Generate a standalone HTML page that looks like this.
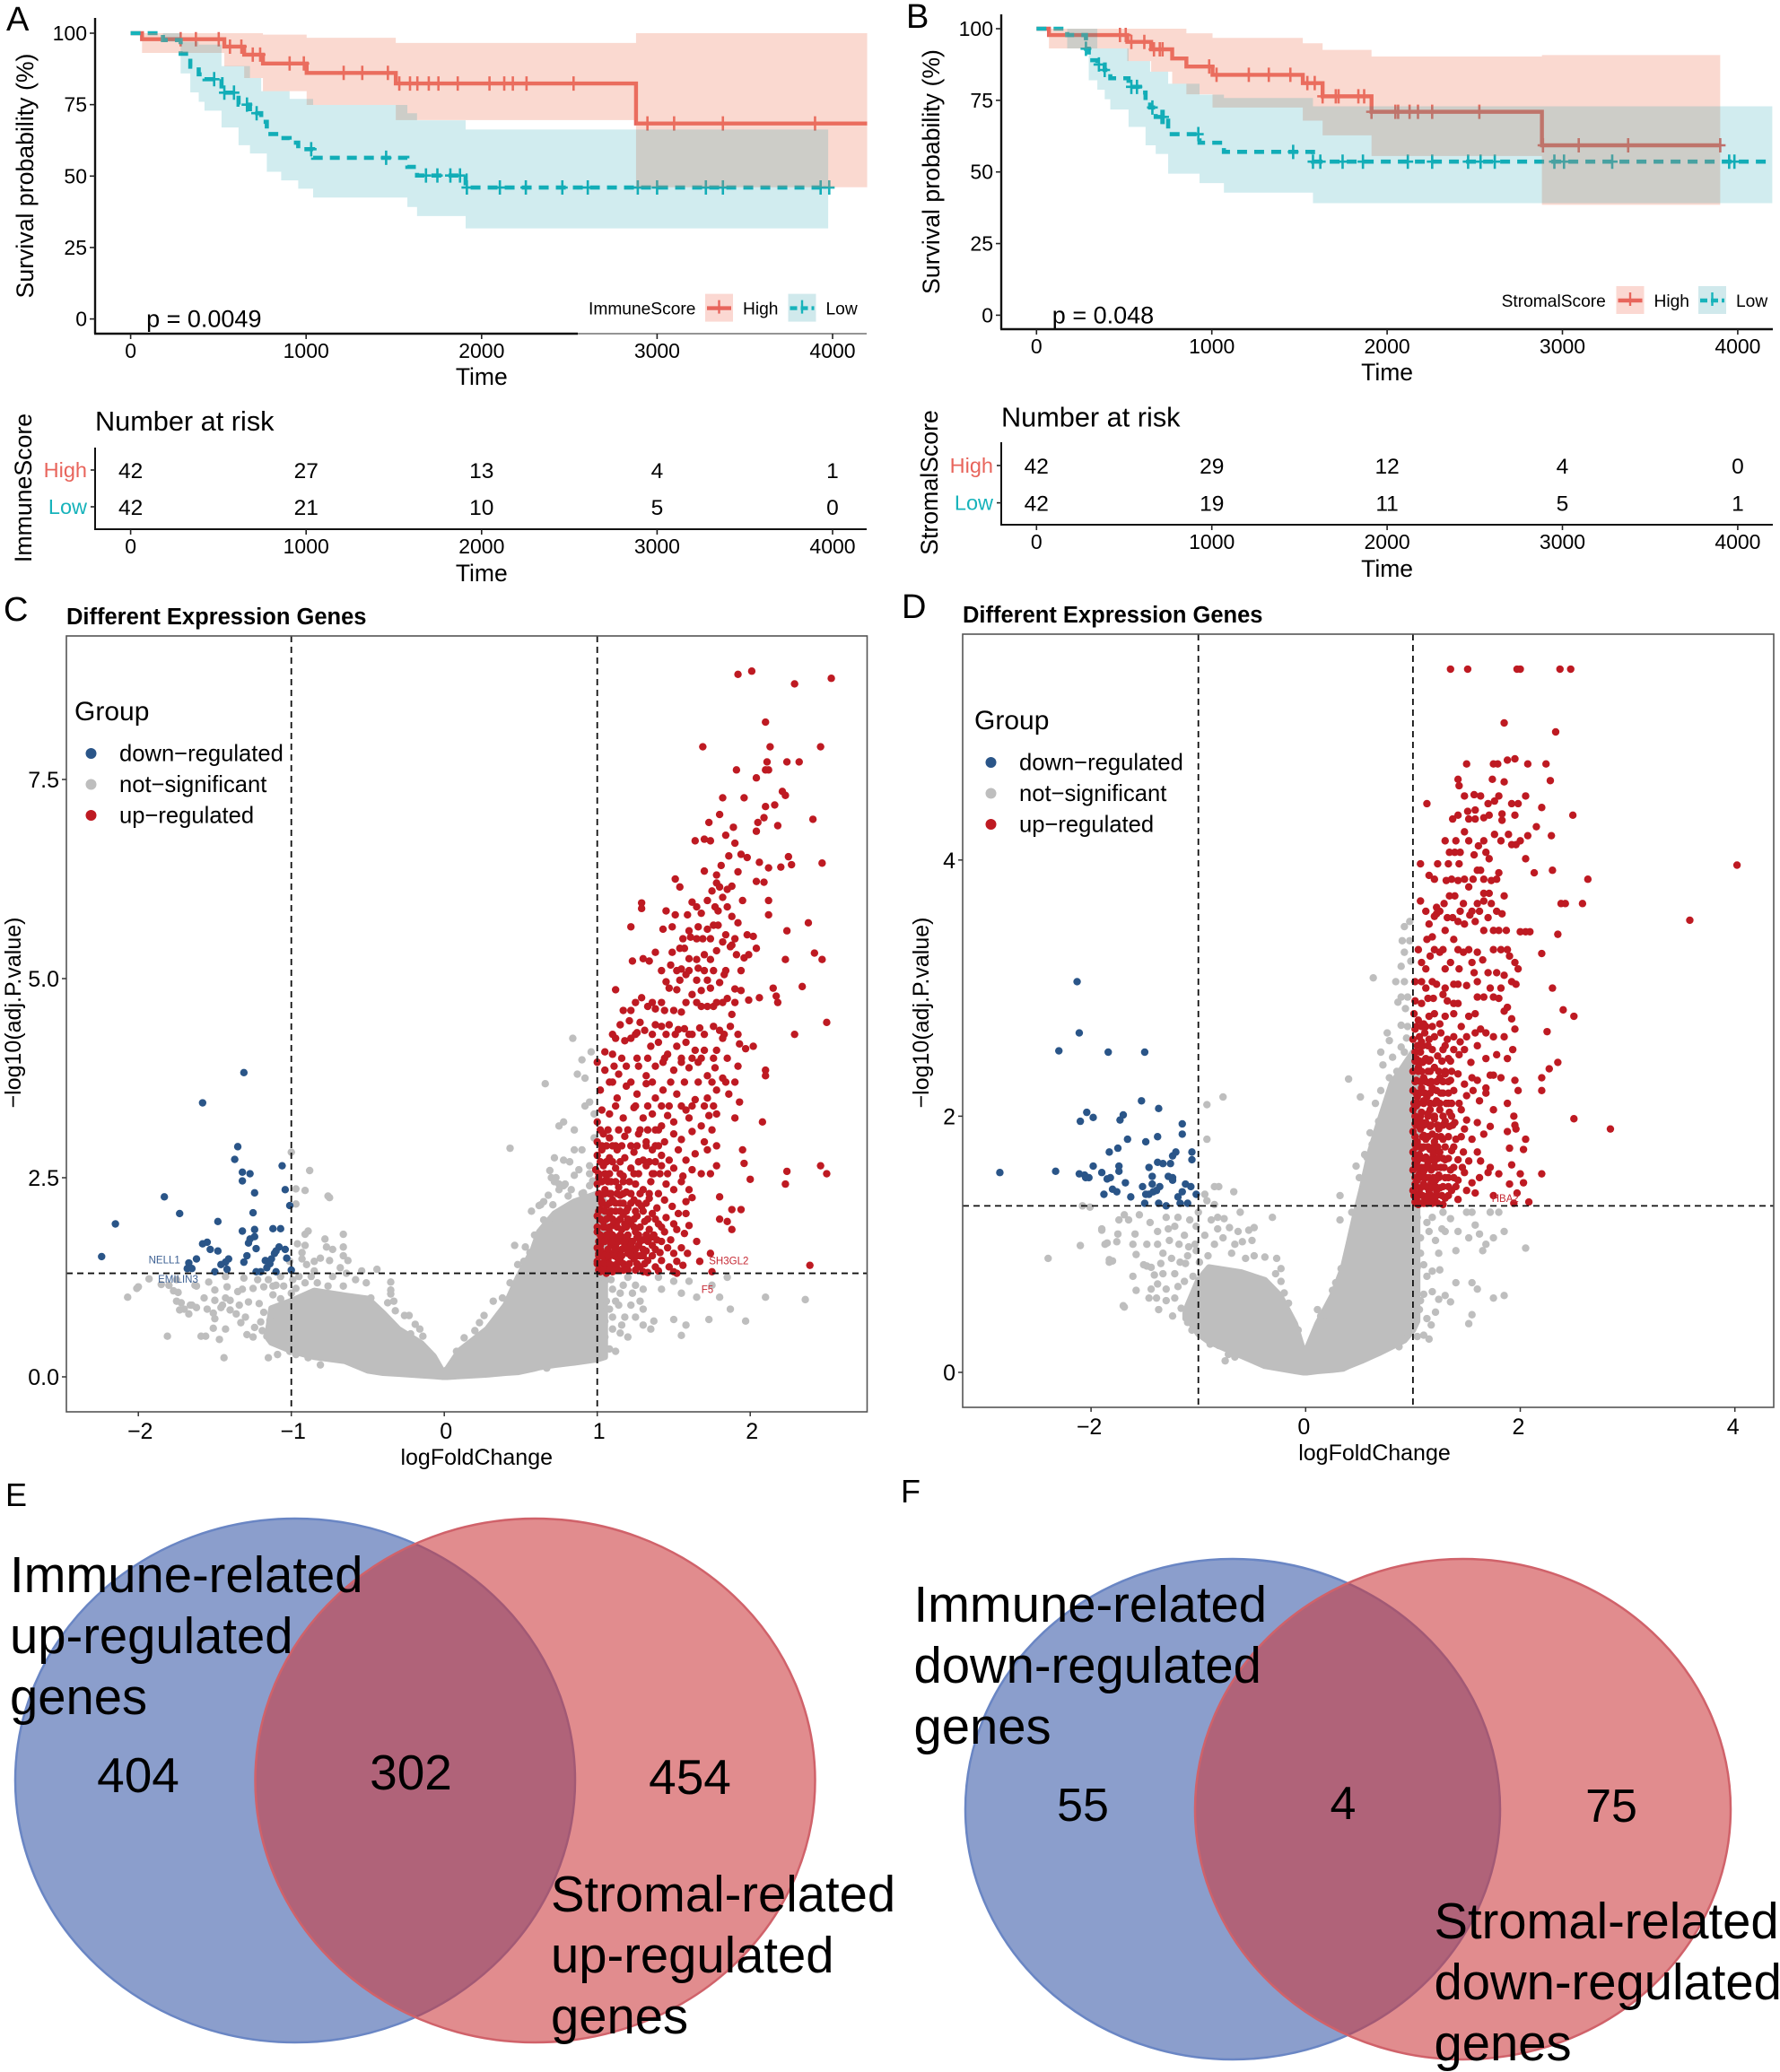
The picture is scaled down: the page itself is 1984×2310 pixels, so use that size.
<!DOCTYPE html>
<html lang="en">
<head>
<meta charset="utf-8">
<title>Survival, volcano and Venn panels</title>
<style>
html,body{margin:0;padding:0;background:#fff;}
svg{display:block;}
text{font-family:"Liberation Sans",Arial,sans-serif;fill:#000;}
</style>
</head>
<body>
<svg id="fig" xmlns="http://www.w3.org/2000/svg" width="1984" height="2310" viewBox="0 0 1984 2310">
<rect width="1984" height="2310" fill="#fff"/>
<text x="7" y="34" font-size="38">A</text>
<text x="1010" y="31" font-size="38">B</text>
<text x="4" y="692" font-size="38">C</text>
<text x="1005" y="689" font-size="38">D</text>
<text x="6" y="1679" font-size="36">E</text>
<text x="1004" y="1675" font-size="36">F</text>

<g id="km-a"></g>
<g id="km-b"></g>
<g id="vol-c"></g>
<g id="vol-d"></g>

<g>
<ellipse cx="329" cy="1985" rx="312" ry="292" fill="rgba(62,93,170,.6)" stroke="#6a86c4" stroke-width="2.5"/>
<ellipse cx="596.5" cy="1985" rx="312" ry="292" fill="rgba(203,57,60,.58)" stroke="#d0626a" stroke-width="2.5"/>
<text font-size="56.2" x="11" y="1775">Immune-related</text>
<text font-size="56.2" x="11" y="1843">up-regulated</text>
<text font-size="56.2" x="11" y="1911">genes</text>
<text font-size="55" x="154" y="1998" text-anchor="middle">404</text>
<text font-size="55" x="458" y="1995" text-anchor="middle">302</text>
<text font-size="55" x="769" y="2000" text-anchor="middle">454</text>
<text font-size="56.2" x="614" y="2131">Stromal-related</text>
<text font-size="56.2" x="614" y="2199">up-regulated</text>
<text font-size="56.2" x="614" y="2267">genes</text>
</g>
<g>
<ellipse cx="1374" cy="2017" rx="298" ry="279" fill="rgba(62,93,170,.6)" stroke="#6a86c4" stroke-width="2.5"/>
<ellipse cx="1630.5" cy="2017" rx="298.5" ry="279" fill="rgba(203,57,60,.58)" stroke="#d0626a" stroke-width="2.5"/>
<text font-size="56.2" x="1018.5" y="1808">Immune-related</text>
<text font-size="56.2" x="1018.5" y="1876">down-regulated</text>
<text font-size="56.2" x="1018.5" y="1944">genes</text>
<text font-size="52" x="1207" y="2030" text-anchor="middle">55</text>
<text font-size="52" x="1497" y="2028" text-anchor="middle">4</text>
<text font-size="52" x="1796" y="2031" text-anchor="middle">75</text>
<text font-size="56.2" x="1598.5" y="2161">Stromal-related</text>
<text font-size="56.2" x="1598.5" y="2229">down-regulated</text>
<text font-size="56.2" x="1598.5" y="2297">genes</text>
</g>
</svg>
<script>
/* ---------- survival data (time, survival %) ---------- */
const kmTimeTicks = [0,1000,2000,3000,4000];
const kmSurvTicks = [0,25,50,75,100];

const aHighTime  = [0,65,534,647,754,1003,1511,2880];
const aHighSurv  = [100,97.9,95.3,92.5,89.4,86.1,82.4,68.4];
const aHighUpper = [100,100,100,100,99.5,98.4,96.6,100];
const aHighLower = [100,93.1,88.4,84.3,79.7,74.9,69.6,46.1];
const aHighCensor = [285,372,502,566,631,696,738,906,987,1214,1320,1466,1531,1592,1634,1699,1754,1864,2045,2129,2178,2256,2524,2945,3097,3375,3900];
const aLowTime  = [0,184,285,340,388,421,518,615,680,744,776,858,906,955,1040,1577,1632,1909];
const aLowSurv  = [100,97.6,92.8,88.3,85.6,83.9,79.2,75,72,69,64.7,63.3,61.7,59.4,56.4,53.2,50.2,46];
const aLowUpper = [100,100,97,97,96,96,88.5,88.5,84.3,79.7,79.7,79.7,77,77,74.9,72,69.5,66.3];
const aLowLower = [100,97,85.9,79.3,76,72.9,67,60.8,57.9,57.9,51.5,48.5,48.5,45.6,42.5,39.2,36,31.7];
const aLowCensor = [476,534,589,663,718,1029,1456,1683,1748,1822,1877,1916,2104,2252,2460,2605,2890,3000,3278,3375,3932,3981];
const aRiskHigh = [42,27,13,4,1];
const aRiskLow  = [42,21,10,5,0];

const bHighTime  = [0,71,518,654,774,855,1004,1519,1632,1911,2883];
const bHighSurv  = [100,97.8,95.4,92.8,89.6,86.8,83.9,81,76.4,71,59.3];
const bHighUpper = [100,100,100,100,100,98.4,96.8,94.9,92.6,90.3,90.8];
const bHighLower = [100,93.1,88.7,85,80.8,77.1,72.5,67.9,62.8,55.6,38.5];
const bHighCensor = [476,509,541,615,670,703,719,985,1027,1211,1325,1448,1545,1587,1632,1707,1723,1836,1869,1911,2047,2063,2128,2176,2257,2526,2889,3093,3375,3900];
const bLowTime  = [0,175,282,298,347,389,421,525,590,622,648,680,751,930,1069,1577];
const bLowSurv  = [100,97.8,93,89,87.5,85.6,82.7,79.7,77.7,75,72.5,69.2,63.2,60.2,57,53.6];
const bLowUpper = [100,100,100,100,93.1,93.1,93.1,88.7,88.7,88.7,85,85,80.8,77,75.8,72.9];
const bLowLower = [100,93.1,93.1,82,78.7,75.4,71.8,65.7,65.7,59.3,59.3,56.3,49.4,46.1,42.8,39.1];
const bLowCensor = [282,356,389,541,573,661,713,725,923,1464,1577,1619,1746,1862,2118,2257,2462,2533,2614,2954,3009,3284,3951,3981];
const bRiskHigh = [42,29,12,4,0];
const bRiskLow  = [42,19,11,5,1];

/* ---------- volcano C data: [logFC, -log10 p] ---------- */
const cXTicks = [-2,-1,0,1,2];
const cYTicks = [0,2.5,5,7.5];
const cDown = [[-1.31,3.82],[-1.58,3.44],[-1.35,2.89],[-1.37,2.73],[-1.32,2.57],[-1.27,2.55],[-1.32,2.46],[-1.06,2.65],[-1.04,2.35],[-1.24,2.31],[-1.83,2.26],[-1.73,2.05],[-1.25,2.06],[-1.01,2.15],[-1.48,1.95],[-2.15,1.92],[-1.32,1.83],[-1.24,1.85],[-1.12,1.86],[-1.07,1.86],[-1.24,1.76],[-1.27,1.73],[-1.55,1.69],[-1.58,1.67],[-1.28,1.68],[-1.23,1.61],[-1.08,1.63],[-1.04,1.6],[-1.53,1.6],[-1.48,1.58],[-1.1,1.58],[-2.24,1.51],[-1.62,1.48],[-1.41,1.48],[-1.29,1.52],[-1.11,1.55],[-1.03,1.49],[-1.67,1.43],[-1.43,1.44],[-1.31,1.44],[-1.17,1.46],[-1.13,1.48],[-1.46,1.41],[-1.14,1.42],[-1.68,1.36],[-1.65,1.36],[-1.42,1.35],[-1.16,1.37],[-1.5,1.32],[-1.23,1.32],[-1.2,1.32],[-1.1,1.32],[-1.0,1.34]];
const cUp = [[1.92,8.82],[2.01,8.86],[2.29,8.7],[2.53,8.77],[2.1,8.22],[1.69,7.91],[2.13,7.91],[2.46,7.91],[2.11,7.72],[2.24,7.72],[2.32,7.72],[1.91,7.62],[2.1,7.62],[2.12,7.62],[2.04,7.52],[2.21,7.35],[2.23,7.3],[1.82,7.27],[1.96,7.27],[2.1,7.16],[2.16,7.18],[1.8,7.06],[2.09,7.02],[2.41,7.0],[2.05,6.96],[1.73,6.96],[2.18,6.92],[1.89,6.9],[2.04,6.85],[1.84,6.8],[1.7,6.75],[1.64,6.73],[1.74,6.73],[1.9,6.7],[1.94,6.56],[1.86,6.54],[1.98,6.52],[2.25,6.53],[2.06,6.46],[2.27,6.43],[2.47,6.45],[1.81,6.42],[2.12,6.39],[2.2,6.4],[1.7,6.35],[1.92,6.34],[1.78,6.3],[1.51,6.25],[2.04,6.22],[2.09,6.21],[1.54,6.15],[1.78,6.2],[1.88,6.16],[1.29,5.95],[1.29,5.88],[1.45,5.85],[1.51,5.8],[1.62,5.96],[1.59,5.8],[1.68,5.82],[1.72,5.98],[1.79,5.85],[1.88,5.78],[1.95,5.98],[2.12,5.98],[2.12,5.8],[1.82,6.02],[1.75,6.1],[1.8,6.15],[1.85,6.12],[1.22,5.65],[1.43,5.62],[1.49,5.65],[1.6,5.6],[1.66,5.65],[1.72,5.62],[1.76,5.67],[1.79,5.67],[1.84,5.55],[1.92,5.7],[1.98,5.55],[2.02,5.53],[2.24,5.6],[2.38,5.7],[1.61,5.52],[1.69,5.5],[1.82,5.46],[1.88,5.42],[1.23,5.22],[1.3,5.25],[1.34,5.22],[1.38,5.33],[1.49,5.33],[1.54,5.38],[1.57,5.38],[1.6,5.25],[1.65,5.24],[1.7,5.3],[1.74,5.24],[1.78,5.35],[1.87,5.4],[1.91,5.3],[1.96,5.26],[1.99,5.3],[2.04,5.38],[2.23,5.24],[2.42,5.32],[2.47,5.24],[1.48,5.17],[1.55,5.12],[1.66,5.13],[1.45,4.96],[1.47,4.88],[1.54,4.98],[1.58,5.05],[1.65,4.98],[1.72,4.98],[1.8,4.95],[1.83,5.05],[1.9,4.87],[1.94,4.85],[1.99,4.73],[2.06,4.76],[2.15,4.88],[2.17,4.78],[2.18,4.7],[2.34,4.9],[1.12,4.86],[1.52,4.86],[1.62,4.8],[1.68,4.85],[1.74,4.88],[1.85,4.75],[1.29,4.76],[1.17,4.6],[1.22,4.6],[1.33,4.65],[1.38,4.62],[1.44,4.6],[1.5,4.6],[1.55,4.58],[1.68,4.65],[1.72,4.65],[1.76,4.65],[1.82,4.7],[1.88,4.55],[1.28,4.45],[1.15,4.42],[1.21,4.47],[1.31,4.35],[1.38,4.42],[1.42,4.4],[1.47,4.42],[1.53,4.36],[1.57,4.37],[1.62,4.3],[1.67,4.38],[1.76,4.4],[1.8,4.35],[1.87,4.4],[1.92,4.3],[2.29,4.3],[2.5,4.45],[1.05,4.08],[1.12,4.25],[1.18,4.22],[1.22,4.25],[1.26,4.32],[1.35,4.15],[1.4,4.2],[1.46,4.05],[1.52,4.15],[1.58,4.2],[1.64,4.1],[1.7,4.1],[1.78,4.1],[1.82,4.25],[1.93,4.18],[1.97,4.12],[2.02,4.15],[1.1,4.05],[1.0,3.95],[1.05,3.85],[1.11,3.9],[1.14,3.8],[1.19,3.9],[1.27,3.9],[1.32,3.78],[1.38,3.9],[1.43,3.95],[1.5,3.85],[1.55,3.95],[1.6,3.88],[1.66,3.95],[1.72,3.78],[1.77,3.88],[1.82,3.75],[1.9,3.7],[1.92,3.9],[2.1,3.85],[2.1,3.78],[1.02,3.6],[1.08,3.7],[1.13,3.5],[1.19,3.65],[1.26,3.55],[1.32,3.68],[1.38,3.5],[1.43,3.6],[1.47,3.4],[1.52,3.55],[1.58,3.35],[1.64,3.48],[1.72,3.5],[1.78,3.6],[1.86,3.55],[1.93,3.45],[1.0,3.2],[1.03,3.35],[1.08,3.3],[1.12,3.4],[1.17,3.25],[1.24,3.38],[1.3,3.25],[1.36,3.3],[1.42,3.15],[1.46,3.28],[1.5,3.2],[1.6,3.25],[1.73,3.28],[1.78,3.3],[1.68,3.15],[1.75,3.1],[1.9,3.25],[2.08,3.2],[1.0,2.95],[1.04,3.05],[1.08,3.0],[1.12,2.9],[1.18,3.02],[1.22,2.9],[1.27,3.05],[1.32,2.95],[1.38,3.1],[1.44,2.95],[1.5,3.05],[1.55,2.98],[1.62,3.08],[1.7,2.95],[1.78,2.9],[1.0,2.78],[1.03,2.85],[1.08,2.75],[1.13,2.85],[1.18,2.75],[1.24,2.82],[1.3,2.72],[1.36,2.85],[1.42,2.78],[1.47,2.72],[1.53,2.85],[1.58,2.72],[1.64,2.8],[1.72,2.85],[1.95,2.85],[0.99,2.6],[1.04,2.65],[1.08,2.55],[1.12,2.62],[1.17,2.52],[1.22,2.62],[1.27,2.55],[1.32,2.65],[1.37,2.55],[1.42,2.65],[1.46,2.55],[1.5,2.62],[1.56,2.52],[1.62,2.6],[1.68,2.55],[1.74,2.55],[1.78,2.65],[1.96,2.68],[2.24,2.58],[2.46,2.65],[2.5,2.55],[1.0,2.42],[1.05,2.35],[1.09,2.45],[1.14,2.38],[1.19,2.32],[1.25,2.42],[1.3,2.35],[1.35,2.45],[1.4,2.3],[1.45,2.42],[1.5,2.35],[1.55,2.45],[1.6,2.35],[2.0,2.48],[2.23,2.42],[1.02,2.25],[1.06,2.15],[1.1,2.22],[1.15,2.18],[1.2,2.12],[1.24,2.22],[1.29,2.14],[1.34,2.24],[1.39,2.12],[1.44,2.22],[1.49,2.14],[1.53,2.05],[1.58,2.2],[1.62,2.25],[1.8,2.26],[1.88,2.1],[1.94,2.1],[1.8,1.98],[1.0,2.02],[1.04,1.95],[1.08,2.05],[1.13,1.95],[1.17,2.04],[1.22,1.92],[1.26,2.02],[1.31,1.95],[1.36,2.05],[1.4,1.92],[1.45,2.0],[1.5,1.92],[1.58,2.05],[1.6,1.9],[1.85,1.95],[1.88,1.85],[1.0,1.82],[1.03,1.72],[1.08,1.82],[1.12,1.75],[1.16,1.85],[1.2,1.72],[1.25,1.82],[1.3,1.72],[1.34,1.85],[1.39,1.72],[1.44,1.82],[1.48,1.72],[1.52,1.85],[1.57,1.8],[1.65,1.7],[1.0,1.62],[1.05,1.55],[1.09,1.65],[1.14,1.58],[1.18,1.66],[1.23,1.56],[1.27,1.65],[1.32,1.58],[1.36,1.65],[1.41,1.56],[1.46,1.62],[1.5,1.55],[1.55,1.62],[1.59,1.55],[1.74,1.55],[1.0,1.45],[1.03,1.38],[1.07,1.48],[1.1,1.4],[1.15,1.46],[1.19,1.38],[1.24,1.48],[1.28,1.38],[1.33,1.46],[1.38,1.38],[1.42,1.46],[1.47,1.38],[1.52,1.45],[1.56,1.4],[1.67,1.45],[2.39,1.4],[1.02,1.32],[1.06,1.3],[1.1,1.32],[1.17,1.34],[1.3,1.32],[1.33,1.31],[1.4,1.33],[1.5,1.32],[1.52,1.3],[1.75,1.32],[1.01,2.5],[1.06,2.48],[1.03,2.2],[1.08,2.3],[1.12,2.08],[1.02,2.1],[1.15,2.28],[1.05,1.88],[1.1,1.9],[1.18,1.92],[1.02,1.65],[1.07,1.72],[1.12,1.65],[1.17,1.75],[1.22,1.65],[1.05,1.48],[1.09,1.55],[1.13,1.5],[1.2,1.55],[1.28,1.52],[1.04,1.4],[1.01,1.55],[1.06,1.36],[1.12,1.36],[1.26,1.75],[1.35,1.75]];
const cUpDense = [[1.01,1.34],[1.04,1.34],[1.08,1.34],[1.12,1.34],[1.14,1.34],[1.2,1.34],[1.25,1.34],[1.0,1.42],[1.02,1.42],[1.05,1.42],[1.08,1.42],[1.13,1.42],[1.17,1.42],[1.21,1.42],[1.26,1.42],[1.31,1.42],[1.01,1.52],[1.03,1.52],[1.07,1.52],[1.11,1.52],[1.16,1.52],[1.22,1.52],[1.26,1.52],[1.3,1.52],[1.36,1.52],[1.02,1.6],[1.07,1.6],[1.12,1.6],[1.16,1.6],[1.2,1.6],[1.25,1.6],[1.3,1.6],[1.38,1.6],[1.01,1.7],[1.05,1.7],[1.1,1.7],[1.14,1.7],[1.18,1.7],[1.23,1.7],[1.28,1.7],[1.33,1.7],[1.42,1.7],[1.02,1.78],[1.06,1.78],[1.1,1.78],[1.15,1.78],[1.2,1.78],[1.27,1.78],[1.32,1.78],[1.37,1.78],[1.0,1.88],[1.04,1.88],[1.08,1.88],[1.13,1.88],[1.19,1.88],[1.24,1.88],[1.28,1.88],[1.42,1.88],[1.02,1.98],[1.06,1.98],[1.1,1.98],[1.15,1.98],[1.2,1.98],[1.24,1.98],[1.33,1.98],[1.38,1.98],[1.01,2.08],[1.05,2.08],[1.09,2.08],[1.15,2.08],[1.19,2.08],[1.25,2.08],[1.3,2.08],[1.03,2.18],[1.08,2.18],[1.12,2.18],[1.17,2.18],[1.22,2.18],[1.27,2.18],[1.32,2.18],[1.01,2.3],[1.05,2.3],[1.09,2.3],[1.13,2.3],[1.17,2.3],[1.22,2.3],[1.28,2.3],[1.34,2.3],[1.03,2.45],[1.07,2.45],[1.12,2.45],[1.17,2.45],[1.21,2.45],[1.01,2.55],[1.05,2.55],[1.15,2.55],[1.24,2.55],[1.36,2.55],[1.41,2.55],[1.02,2.7],[1.06,2.7],[1.1,2.7],[1.15,2.7],[1.27,2.7],[1.34,2.7],[1.38,2.7],[1.03,2.9],[1.06,2.9],[1.1,2.9],[1.16,2.9],[1.26,2.9],[1.32,2.9],[1.38,2.9],[1.4,2.9],[1.02,3.1],[1.07,3.1],[1.14,3.1],[1.2,3.1],[1.28,3.1],[1.33,3.1],[1.4,3.1],[1.25,3.4],[1.33,3.4],[1.42,3.4],[1.55,3.4],[1.62,3.4],[1.7,3.4],[1.76,3.4],[1.1,3.7],[1.22,3.7],[1.36,3.7],[1.48,3.7],[1.57,3.7],[1.66,3.7],[1.75,3.7],[1.84,3.7],[1.16,4.0],[1.26,4.0],[1.33,4.0],[1.44,4.0],[1.55,4.0],[1.62,4.0],[1.68,4.0],[1.76,4.0],[1.85,4.0],[1.1,4.3],[1.25,4.3],[1.36,4.3],[1.45,4.3],[1.51,4.3],[1.6,4.3],[1.7,4.3],[1.83,4.3],[1.25,4.7],[1.36,4.7],[1.42,4.7],[1.58,4.7],[1.65,4.7],[1.78,4.7],[1.9,4.7],[1.42,5.1],[1.52,5.1],[1.6,5.1],[1.7,5.1],[1.76,5.1],[1.84,5.1],[1.94,5.1],[1.56,5.5],[1.65,5.5],[1.74,5.5],[1.9,5.5],[1.65,5.9],[1.77,5.9],[1.85,5.9]];
const cMassFc  = [-1.15,-1.13,-0.99,-0.85,-0.65,-0.5,-0.4,-0.3,-0.15,-0.07,-0.01,0.02,0.1,0.28,0.4,0.48,0.58,0.62,0.72,0.85,1.0,1.05];
const cMassUp  = [0.6,0.86,0.96,1.08,1.02,0.98,0.8,0.6,0.42,0.26,0.06,0.1,0.33,0.6,0.9,1.24,1.6,1.82,2.05,2.2,2.3,2.2];
const cMassLow = [0.48,0.43,0.32,0.25,0.2,0.08,0.05,0.04,0.02,0.01,0,0,0.01,0.03,0.05,0.06,0.1,0.12,0.15,0.18,0.22,0.25];
const cGray = [[-1.0,2.82],[-0.88,2.59],[-0.97,2.36],[-0.91,2.34],[-0.76,2.27],[-0.75,2.25],[-0.97,2.17],[-0.89,1.83],[-0.91,1.79],[-0.96,1.67],[-0.91,1.65],[-0.93,1.56],[-0.93,1.48],[-0.78,1.73],[-0.77,1.63],[-0.73,1.6],[-0.75,1.46],[-0.66,1.79],[-0.66,1.63],[-0.66,1.52],[-0.63,1.46],[-0.81,1.49],[-0.85,1.45],[-0.9,1.41],[-1.01,1.45],[-0.85,1.33],[-0.68,1.37],[-0.54,1.33],[-0.44,1.35],[-0.64,1.3],[-0.95,1.26],[-0.58,1.22],[-0.51,1.18],[-0.35,1.19],[-0.35,1.09],[-0.35,1.04],[-0.37,0.93],[-0.33,0.95],[-0.48,0.99],[-0.32,0.83],[-0.26,0.77],[-0.23,0.77],[-0.19,0.66],[-0.16,0.6],[-0.14,0.51],[-0.22,0.54],[-2.01,1.11],[-1.93,1.23],[-1.85,1.16],[-1.77,1.08],[-1.74,1.06],[-1.72,0.93],[-1.73,0.84],[-1.66,0.9],[-1.67,0.79],[-1.62,0.87],[-1.62,1.14],[-1.57,0.99],[-1.54,1.19],[-1.5,1.09],[-1.5,0.96],[-1.43,1.26],[-1.42,1.13],[-1.43,0.99],[-1.4,0.96],[-1.35,1.07],[-1.31,1.24],[-1.34,0.9],[-1.28,0.94],[-1.51,0.8],[-1.5,0.73],[-1.46,0.87],[-1.4,0.84],[-1.36,0.79],[-1.33,0.68],[-1.51,0.61],[-1.43,0.6],[-1.81,0.51],[-1.59,0.51],[-1.56,0.51],[-1.47,0.47],[-1.44,0.24],[-1.15,0.24],[-1.09,0.28],[-1.29,0.53],[-1.24,0.62],[-1.19,0.58],[-1.25,1.11],[-1.18,1.13],[-1.12,1.14],[-1.05,1.14],[-1.22,1.22],[-1.15,1.22],[-1.07,1.26],[-1.21,0.92],[-1.18,0.81],[-1.12,1.03],[-1.07,0.98],[-1.16,0.51],[-1.14,0.71],[-1.2,0.69],[-1.05,0.81],[-0.97,1.11],[-0.91,1.18],[-0.83,1.18],[-0.76,1.14],[-0.99,1.22],[-0.87,1.26],[-0.73,1.26],[-0.66,1.14],[-1.01,0.32],[-0.89,0.24],[-0.81,0.15],[-0.97,0.28],[-2.07,1.0],[-2.0,1.13],[-1.75,1.22],[-1.8,1.15],[-1.65,0.9],[-1.7,0.85],[-1.75,0.95],[-1.63,1.15],[-1.55,0.85],[-1.45,0.9],[-1.3,0.75],[-1.32,1.1],[-1.25,0.5],[-1.1,1.15],[-1.0,1.05],[0.84,4.25],[0.96,4.08],[0.9,3.98],[0.87,3.8],[0.92,3.75],[0.66,3.68],[0.95,3.45],[0.92,3.4],[0.98,3.3],[0.43,2.87],[0.78,3.2],[0.75,3.15],[0.85,3.1],[0.98,3.0],[0.85,2.85],[0.9,2.85],[0.72,2.75],[0.78,2.72],[0.82,2.7],[0.88,2.6],[0.95,2.55],[0.7,2.5],[0.72,2.45],[0.75,2.42],[0.78,2.4],[0.83,2.35],[0.9,2.3],[0.95,2.4],[0.65,2.2],[0.62,2.15],[0.68,2.28],[0.46,1.65],[0.53,1.63],[0.57,2.08],[0.63,2.16],[0.69,2.59],[0.48,1.41],[0.43,1.18],[0.32,0.95],[0.38,0.99],[0.26,0.77],[0.23,0.68],[0.2,0.58],[0.13,0.49],[0.08,0.32],[0.56,1.56],[0.52,1.45],[0.59,1.78],[0.65,1.97],[0.73,2.5],[0.79,2.42],[0.75,2.35],[0.85,2.53],[0.91,2.31],[0.97,2.46],[0.81,2.27],[0.87,2.2],[0.71,2.16],[0.95,2.65],[0.89,0.21],[0.96,0.23],[0.67,0.11],[1.05,1.2],[1.1,1.1],[1.15,1.05],[1.2,1.25],[1.25,1.15],[1.02,0.95],[1.08,0.85],[1.12,0.95],[1.18,0.75],[1.22,0.9],[1.28,0.95],[1.3,0.65],[1.35,0.6],[1.05,0.7],[1.1,0.6],[1.15,0.55],[1.2,0.5],[1.05,0.5],[1.08,0.35],[1.12,0.32],[1.02,0.35],[1.4,1.25],[1.42,1.1],[1.5,1.2],[1.55,1.05],[1.6,1.2],[1.65,1.0],[1.75,1.15],[1.85,1.25],[1.8,1.0],[1.87,0.85],[1.97,0.7],[1.73,0.72],[1.58,0.65],[1.5,0.72],[1.55,0.52],[1.37,0.7],[1.3,0.85],[1.3,1.1],[2.1,1.0],[2.36,0.97],[1.03,1.1],[1.06,0.95],[1.14,0.9],[1.17,1.15],[1.23,1.05],[1.1,0.75],[1.16,0.65],[1.25,0.75],[1.04,1.25],[1.09,1.22],[1.03,0.62],[1.03,0.82]];

/* ---------- volcano D data: [logFC, -log10 p] ---------- */
const dXTicks = [-2,0,2,4];
const dYTicks = [0,2,4];
const dDown = [[-2.13,3.05],[-2.11,2.65],[-2.3,2.51],[-1.84,2.5],[-1.5,2.5],[-1.53,2.12],[-1.37,2.06],[-2.04,2.03],[-1.98,1.99],[-2.1,1.96],[-1.7,2.01],[-1.73,1.97],[-1.15,1.94],[-1.15,1.86],[-1.38,1.84],[-1.66,1.82],[-1.49,1.8],[-1.75,1.75],[-1.83,1.72],[-1.21,1.72],[-1.06,1.72],[-1.24,1.69],[-1.06,1.66],[-1.33,1.63],[-1.38,1.64],[-1.26,1.63],[-1.46,1.6],[-1.74,1.61],[-1.74,1.57],[-1.98,1.61],[-2.33,1.57],[-2.85,1.56],[-2.11,1.55],[-1.9,1.56],[-2.06,1.54],[-2.02,1.52],[-2.05,1.52],[-1.85,1.51],[-1.82,1.52],[-1.28,1.53],[-1.24,1.52],[-1.43,1.53],[-1.68,1.48],[-1.52,1.45],[-1.43,1.47],[-1.36,1.45],[-1.24,1.5],[-1.12,1.47],[-1.15,1.41],[-1.02,1.39],[-1.8,1.43],[-1.76,1.41],[-1.88,1.39],[-1.63,1.37],[-1.49,1.39],[-1.46,1.39],[-1.42,1.41],[-1.39,1.42],[-1.5,1.32],[-1.37,1.32],[-1.3,1.3],[-1.17,1.32],[-1.1,1.32],[-1.19,1.37],[-1.07,1.45]];
const dUp = [[1.35,5.49],[1.51,5.49],[1.97,5.49],[2.0,5.49],[2.37,5.49],[2.47,5.49],[1.85,5.07],[2.33,5.0],[1.5,4.75],[1.75,4.75],[1.79,4.75],[1.88,4.78],[1.95,4.79],[2.07,4.75],[2.24,4.75],[1.42,4.63],[1.74,4.63],[1.43,4.58],[1.85,4.61],[2.28,4.62],[1.57,4.51],[1.13,4.44],[1.7,4.44],[1.76,4.46],[1.92,4.44],[1.98,4.44],[2.2,4.41],[1.58,4.39],[1.51,4.38],[1.66,4.33],[1.71,4.35],[1.83,4.36],[1.95,4.35],[2.49,4.35],[1.37,4.32],[1.42,4.35],[1.52,4.32],[1.58,4.32],[1.83,4.31],[2.15,4.26],[1.48,4.22],[1.76,4.2],[1.89,4.2],[2.07,4.19],[2.29,4.19],[1.61,4.11],[1.92,4.12],[1.96,4.12],[1.68,4.06],[1.57,4.04],[1.34,4.06],[1.39,4.06],[1.44,4.06],[2.05,4.01],[1.07,3.97],[1.23,3.97],[1.33,3.97],[1.43,3.97],[1.71,4.01],[1.6,3.92],[1.63,3.92],[1.8,3.9],[2.13,3.9],[2.3,3.92],[2.63,3.85],[4.02,3.96],[1.15,3.88],[1.31,3.84],[1.42,3.84],[1.52,3.79],[1.73,3.84],[1.34,3.72],[1.39,3.72],[1.66,3.74],[1.71,3.74],[1.85,3.72],[1.07,3.68],[1.22,3.63],[1.29,3.66],[1.47,3.66],[1.6,3.66],[1.66,3.68],[1.73,3.66],[2.38,3.66],[2.42,3.66],[2.58,3.66],[3.58,3.53],[1.15,3.5],[1.2,3.56],[1.22,3.58],[1.3,3.45],[1.32,3.55],[1.37,3.55],[1.42,3.52],[1.48,3.5],[1.53,3.57],[1.58,3.52],[1.66,3.45],[1.7,3.55],[1.75,3.45],[1.8,3.45],[1.87,3.45],[1.83,3.58],[2.0,3.44],[2.05,3.44],[2.09,3.44],[2.35,3.42],[1.08,3.2],[1.12,3.15],[1.16,3.25],[1.2,3.3],[1.18,3.4],[1.13,3.38],[1.25,3.28],[1.3,3.15],[1.35,3.2],[1.38,3.38],[1.43,3.15],[1.47,3.28],[1.55,3.2],[1.6,3.28],[1.65,3.22],[1.7,3.12],[1.78,3.12],[1.85,3.1],[1.9,3.25],[1.95,3.2],[1.98,3.15],[2.2,3.27],[1.57,3.12],[1.02,3.05],[1.08,3.05],[1.12,3.0],[1.18,3.05],[1.22,3.03],[1.3,3.0],[1.38,3.03],[1.42,3.03],[1.5,3.02],[1.6,3.05],[1.72,3.0],[1.82,3.0],[1.92,3.05],[1.96,3.03],[2.3,3.0],[1.02,2.9],[1.08,2.88],[1.14,2.92],[1.19,2.92],[1.28,2.95],[1.32,2.9],[1.38,2.88],[1.42,2.88],[1.6,2.93],[1.66,2.93],[1.75,2.93],[1.8,2.92],[1.88,2.85],[2.4,2.83],[1.01,2.8],[1.05,2.75],[1.1,2.72],[1.15,2.78],[1.2,2.8],[1.25,2.72],[1.3,2.78],[1.38,2.8],[1.45,2.7],[1.52,2.78],[1.58,2.8],[1.85,2.82],[1.92,2.76],[2.5,2.78],[1.0,2.6],[1.06,2.62],[1.11,2.65],[1.15,2.6],[1.2,2.62],[1.26,2.65],[1.32,2.6],[1.38,2.62],[1.44,2.58],[1.5,2.62],[1.58,2.65],[1.63,2.68],[1.68,2.65],[1.75,2.62],[1.85,2.62],[1.95,2.68],[2.25,2.66],[1.02,2.5],[1.07,2.5],[1.12,2.45],[1.18,2.52],[1.23,2.47],[1.28,2.52],[1.33,2.45],[1.38,2.52],[1.43,2.48],[1.48,2.52],[1.54,2.42],[1.6,2.55],[1.68,2.45],[1.78,2.48],[1.88,2.45],[1.93,2.52],[2.35,2.42],[2.27,2.37],[1.0,2.35],[1.05,2.38],[1.1,2.3],[1.14,2.35],[1.2,2.38],[1.25,2.3],[1.3,2.33],[1.35,2.28],[1.42,2.33],[1.48,2.25],[1.55,2.3],[1.6,2.28],[1.68,2.22],[1.72,2.32],[1.75,2.32],[1.82,2.3],[1.95,2.28],[2.2,2.3],[1.0,2.2],[1.04,2.15],[1.08,2.22],[1.13,2.15],[1.18,2.22],[1.22,2.12],[1.28,2.18],[1.33,2.1],[1.38,2.2],[1.43,2.1],[1.5,2.16],[1.56,2.2],[1.62,2.12],[1.68,2.18],[1.98,2.2],[2.2,2.2],[1.0,2.05],[1.04,1.98],[1.08,2.03],[1.12,1.95],[1.16,2.05],[1.2,1.98],[1.25,2.05],[1.3,1.96],[1.34,2.03],[1.39,1.95],[1.45,2.05],[1.5,1.97],[1.6,1.95],[1.75,2.05],[1.88,2.1],[1.94,2.0],[1.95,1.93],[2.5,1.98],[2.84,1.9],[1.0,1.88],[1.04,1.8],[1.07,1.9],[1.12,1.82],[1.16,1.92],[1.2,1.8],[1.24,1.9],[1.28,1.82],[1.34,1.92],[1.4,1.82],[1.48,1.9],[1.55,1.82],[1.66,1.86],[1.72,1.92],[1.88,1.88],[2.05,1.82],[1.96,1.9],[1.0,1.72],[1.04,1.65],[1.08,1.75],[1.12,1.68],[1.16,1.74],[1.2,1.65],[1.25,1.72],[1.3,1.66],[1.36,1.73],[1.42,1.66],[1.47,1.72],[1.52,1.65],[1.6,1.72],[1.63,1.65],[1.72,1.6],[1.92,1.62],[1.9,1.75],[2.03,1.74],[1.0,1.58],[1.04,1.5],[1.08,1.6],[1.12,1.52],[1.17,1.58],[1.21,1.5],[1.26,1.6],[1.3,1.52],[1.35,1.58],[1.42,1.5],[1.48,1.56],[1.55,1.48],[1.62,1.52],[1.7,1.56],[1.8,1.55],[1.9,1.47],[2.0,1.55],[2.03,1.48],[2.2,1.55],[1.0,1.42],[1.03,1.35],[1.07,1.44],[1.11,1.36],[1.15,1.42],[1.2,1.35],[1.25,1.44],[1.3,1.36],[1.36,1.42],[1.42,1.35],[1.5,1.42],[1.58,1.4],[1.75,1.38],[1.97,1.4],[2.08,1.33],[1.94,1.32],[1.28,1.31],[1.05,1.31],[1.02,2.68],[1.08,2.58],[1.03,2.45],[1.09,2.42],[1.16,2.44],[1.03,2.28],[1.1,2.12],[1.15,2.26],[1.03,2.08],[1.07,1.96],[1.14,2.02],[1.22,2.2],[1.02,1.94],[1.1,1.85],[1.18,1.86],[1.02,1.78],[1.06,1.7],[1.14,1.76],[1.22,1.74],[1.02,1.63],[1.06,1.55],[1.14,1.64],[1.19,1.7],[1.1,1.57],[1.24,1.54],[1.02,1.47],[1.06,1.4],[1.1,1.47],[1.17,1.48],[1.22,1.42],[1.02,1.33],[1.1,1.32],[1.15,1.33]];
const dUpDense = [[1.03,1.32],[1.07,1.32],[1.13,1.32],[1.18,1.32],[1.23,1.32],[1.01,1.38],[1.05,1.38],[1.09,1.38],[1.14,1.38],[1.17,1.38],[1.22,1.38],[1.27,1.38],[1.33,1.38],[1.03,1.45],[1.12,1.45],[1.18,1.45],[1.21,1.45],[1.28,1.45],[1.33,1.45],[1.4,1.45],[1.02,1.52],[1.06,1.52],[1.1,1.52],[1.15,1.52],[1.19,1.52],[1.24,1.52],[1.33,1.52],[1.38,1.52],[1.03,1.6],[1.06,1.6],[1.11,1.6],[1.14,1.6],[1.19,1.6],[1.22,1.6],[1.29,1.6],[1.38,1.6],[1.46,1.6],[1.02,1.67],[1.06,1.67],[1.1,1.67],[1.18,1.67],[1.23,1.67],[1.28,1.67],[1.33,1.67],[1.03,1.76],[1.07,1.76],[1.1,1.76],[1.14,1.76],[1.19,1.76],[1.23,1.76],[1.3,1.76],[1.38,1.76],[1.02,1.84],[1.09,1.84],[1.14,1.84],[1.22,1.84],[1.26,1.84],[1.33,1.84],[1.45,1.84],[1.03,1.93],[1.05,1.93],[1.1,1.93],[1.17,1.93],[1.23,1.93],[1.28,1.93],[1.37,1.93],[1.02,2.0],[1.07,2.0],[1.14,2.0],[1.2,2.0],[1.28,2.0],[1.36,2.0],[1.01,2.1],[1.05,2.1],[1.1,2.1],[1.16,2.1],[1.2,2.1],[1.25,2.1],[1.31,2.1],[1.36,2.1],[1.03,2.18],[1.06,2.18],[1.11,2.18],[1.16,2.18],[1.26,2.18],[1.33,2.18],[1.02,2.27],[1.07,2.27],[1.12,2.27],[1.17,2.27],[1.22,2.27],[1.28,2.27],[1.33,2.27],[1.05,2.35],[1.08,2.35],[1.16,2.35],[1.24,2.35],[1.3,2.35],[1.36,2.35],[1.02,2.43],[1.06,2.43],[1.1,2.43],[1.15,2.43],[1.27,2.43],[1.35,2.43],[1.04,2.55],[1.09,2.55],[1.14,2.55],[1.3,2.55],[1.03,2.7],[1.08,2.7],[1.12,2.7],[1.18,2.7],[1.05,3.3],[1.28,3.3],[1.42,3.3],[1.52,3.3],[1.75,3.3],[1.82,3.3],[1.88,3.3],[1.12,3.6],[1.25,3.6],[1.44,3.6],[1.55,3.6],[1.62,3.6],[1.78,3.6],[1.2,3.85],[1.36,3.85],[1.48,3.85],[1.56,3.85],[1.66,3.85],[1.78,3.85],[1.3,4.15],[1.4,4.15],[1.52,4.15],[1.66,4.15],[1.82,4.15],[2.0,4.15],[1.48,4.5],[1.63,4.5],[1.8,4.5],[2.05,4.5]];
const dMassFc  = [-1.12,-1.1,-1.0,-0.9,-0.6,-0.38,-0.24,-0.1,-0.02,0.01,0.11,0.25,0.35,0.4,0.46,0.52,0.6,0.68,0.8,0.92,1.0,1.04];
const dMassUp  = [0.46,0.52,0.72,0.82,0.78,0.72,0.6,0.38,0.16,0.18,0.38,0.6,0.82,1.0,1.22,1.42,1.72,1.94,2.25,2.4,2.5,2.3];
const dMassLow = [0.42,0.42,0.3,0.24,0.13,0.05,0.03,0.01,0,0,0.01,0.02,0.03,0.05,0.07,0.09,0.12,0.15,0.2,0.25,0.33,0.4];
const dGray = [[-2.4,0.89],[-2.1,0.99],[-2.08,1.3],[-1.9,1.12],[-1.87,1.0],[-1.83,0.88],[-1.7,0.52],[-0.92,2.09],[-0.77,2.15],[-0.92,1.82],[-0.85,1.45],[-0.81,1.45],[-0.67,1.41],[-0.94,1.39],[-0.92,1.34],[-0.85,1.31],[-0.61,1.25],[-0.31,1.21],[-2.01,1.29],[-1.9,1.11],[-1.74,1.19],[-1.69,1.23],[-1.65,1.19],[-1.85,1.01],[-1.76,1.02],[-1.75,1.08],[-1.83,0.86],[-1.8,0.87],[-1.58,0.92],[-1.61,0.75],[-1.58,0.64],[-1.69,0.51],[-1.61,1.0],[-1.59,1.08],[-1.55,1.23],[-1.51,0.84],[-1.48,0.83],[-1.44,0.82],[-1.41,0.76],[-1.38,0.69],[-1.44,0.65],[-1.46,0.58],[-1.39,0.58],[-1.3,0.65],[-1.3,0.56],[-1.22,0.58],[-1.37,0.49],[-1.24,0.44],[-1.16,0.5],[-1.1,0.39],[-1.06,0.33],[-1.33,0.77],[-1.45,1.17],[-1.38,1.1],[-1.48,1.0],[-1.38,1.0],[-1.3,1.21],[-1.27,1.03],[-1.33,0.93],[-1.22,1.14],[-1.19,1.21],[-1.13,1.07],[-1.08,1.19],[-1.25,0.89],[-1.17,0.86],[-1.09,0.98],[-1.1,0.91],[-1.22,0.77],[-1.13,0.71],[-1.19,0.67],[-1.02,1.14],[-0.94,1.07],[-0.88,1.19],[-0.82,1.21],[-0.76,1.2],[-0.82,1.12],[-0.71,1.13],[-0.63,1.1],[-0.53,1.11],[-0.48,1.13],[-0.66,1.0],[-0.59,1.02],[-0.5,1.03],[-0.77,1.05],[-0.69,0.93],[-0.85,1.0],[-0.91,0.91],[-0.99,0.86],[-0.56,0.89],[-0.48,0.91],[-0.38,0.9],[-0.27,0.89],[-0.23,0.81],[-0.28,0.77],[-0.23,0.71],[-0.2,0.62],[-0.16,0.54],[-0.1,0.36],[-0.07,0.33],[-0.95,0.29],[-0.88,0.27],[-0.89,0.22],[-0.81,0.21],[-0.72,0.14],[-0.75,0.09],[-0.66,0.12],[-1.0,1.25],[-1.05,0.75],[-1.03,1.0],[-1.12,0.85],[-1.18,1.0],[-1.28,1.12],[-1.02,0.95],[-1.35,0.85],[0.11,0.49],[0.14,0.44],[0.22,0.44],[0.25,0.64],[0.28,0.7],[0.33,0.81],[0.63,3.08],[0.4,2.29],[0.51,2.15],[0.76,2.65],[0.78,2.59],[0.86,2.89],[0.84,3.05],[0.32,1.38],[0.32,1.19],[0.47,1.61],[0.5,1.52],[0.57,1.68],[0.6,1.87],[0.68,1.96],[0.43,1.25],[0.92,3.48],[0.97,3.52],[0.9,3.37],[0.97,3.37],[0.92,3.28],[0.89,3.17],[0.98,3.21],[0.92,3.05],[0.89,2.93],[0.95,2.93],[0.93,2.84],[0.89,2.71],[0.95,2.7],[0.92,2.5],[0.99,2.47],[0.94,2.61],[0.89,2.54],[0.7,2.5],[0.81,2.46],[0.72,2.4],[0.78,2.3],[0.85,2.35],[0.65,2.1],[0.7,2.2],[0.62,1.78],[0.55,1.7],[0.87,0.2],[1.1,0.29],[1.15,0.26],[1.04,0.28],[1.13,0.42],[1.17,0.37],[1.21,0.47],[1.06,0.49],[1.1,0.61],[1.18,0.63],[1.07,0.56],[1.24,0.57],[1.13,0.75],[1.04,0.82],[1.18,0.79],[1.1,0.84],[1.24,0.93],[1.07,0.93],[1.15,1.1],[1.21,1.03],[1.07,1.05],[1.13,1.17],[1.18,1.21],[1.04,1.21],[1.27,1.12],[1.28,1.25],[1.3,1.1],[1.35,1.2],[1.4,0.95],[1.42,1.1],[1.5,1.25],[1.52,1.05],[1.55,1.25],[1.58,1.15],[1.62,1.08],[1.65,0.95],[1.68,1.0],[1.72,1.25],[1.75,1.05],[1.8,1.25],[1.85,1.1],[2.05,0.97],[1.85,0.6],[1.75,0.58],[1.55,0.45],[1.52,0.38],[1.6,0.65],[1.55,0.7],[1.4,0.7],[1.3,0.6],[1.25,0.8],[1.35,0.55]];

/* ---------- drawing helpers ---------- */
const SVGNS = 'http://www.w3.org/2000/svg';
function make(parent, tag, attrs, text) {
  const n = document.createElementNS(SVGNS, tag);
  for (const k in attrs) n.setAttribute(k, attrs[k]);
  if (text !== undefined) n.textContent = text;
  parent.appendChild(n);
  return n;
}
function stepPath(times, vals, endT, sx, sy) {
  let d = 'M' + sx(times[0]) + ' ' + sy(vals[0]);
  for (let i = 1; i < times.length; i++) {
    d += 'H' + sx(times[i]) + 'V' + sy(vals[i]);
  }
  return d + 'H' + sx(endT);
}
function ribbonPath(times, upper, lower, endT, sx, sy) {
  let d = 'M' + sx(times[0]) + ' ' + sy(upper[0]);
  for (let i = 1; i < times.length; i++) d += 'H' + sx(times[i]) + 'V' + sy(upper[i]);
  d += 'H' + sx(endT) + 'V' + sy(lower[lower.length - 1]);
  for (let i = times.length - 1; i > 0; i--) d += 'H' + sx(times[i]) + 'V' + sy(lower[i - 1]);
  return d + 'H' + sx(times[0]) + 'Z';
}
function stepValue(times, vals, t) {
  let v = vals[0];
  for (let i = 0; i < times.length; i++) if (times[i] <= t) v = vals[i];
  return v;
}
const SALMON = '#E8655C', TEAL = '#17B3BB';
const PINK_FILL = 'rgba(240,130,100,.3)', TEAL_FILL = 'rgba(0,150,165,.18)';

function drawKM(cfg) {
  const g = document.getElementById(cfg.id);
  const sx = t => cfg.x0 + t * cfg.pxPerTime;
  const sy = s => cfg.y0 - s * cfg.pxPerSurv;
  const L = cfg.axisLeft, R = cfg.axisRight, B = cfg.axisBottom;

  const hl = make(g, 'path', {d: stepPath(cfg.hTime, cfg.hSurv, cfg.hEnd, sx, sy), fill: 'none', stroke: SALMON, 'stroke-width': 4.4});
  
  
  cfg.hCensor.forEach(t => {
    const v = stepValue(cfg.hTime, cfg.hSurv, t);
    const c = make(g, 'path', {d: 'M' + (sx(t) - 6) + ' ' + sy(v) + 'h12M' + sx(t) + ' ' + (sy(v) - 8) + 'v16', stroke: SALMON, 'stroke-width': 2.6, fill: 'none'});
    
    
  });
  const ll = make(g, 'path', {d: stepPath(cfg.lTime, cfg.lSurv, cfg.lEnd, sx, sy), fill: 'none', stroke: TEAL, 'stroke-width': 4.6, 'stroke-dasharray': '11 8'});
  
  
  cfg.lCensor.forEach(t => {
    const v = stepValue(cfg.lTime, cfg.lSurv, t);
    const c = make(g, 'path', {d: 'M' + (sx(t) - 6) + ' ' + sy(v) + 'h12M' + sx(t) + ' ' + (sy(v) - 8) + 'v16', stroke: TEAL, 'stroke-width': 2.6, fill: 'none'});
    
    
  });
  const hr = make(g, 'path', {d: ribbonPath(cfg.hTime, cfg.hUpper, cfg.hLower, cfg.hEnd, sx, sy), fill: PINK_FILL});
  
  
  const lr = make(g, 'path', {d: ribbonPath(cfg.lTime, cfg.lUpper, cfg.lLower, cfg.lBandEnd, sx, sy), fill: TEAL_FILL});
  
  

  const ya = make(g, 'line', {x1: L, x2: L, y1: cfg.axisTop, y2: B, stroke: '#111', 'stroke-width': 2.4});
  
  
  const xa = make(g, 'line', {x1: L - 1, x2: cfg.darkEnd, y1: B, y2: B, stroke: '#111', 'stroke-width': 2.4});
  
  
  if (cfg.darkEnd < R) {
    const xb = make(g, 'line', {x1: cfg.darkEnd, x2: R, y1: B, y2: B, stroke: '#555', 'stroke-width': 1.2});
    
    
  }
  kmTimeTicks.forEach(t => {
    const tk = make(g, 'line', {x1: sx(t), x2: sx(t), y1: B, y2: B + 6, stroke: '#222', 'stroke-width': 1.6});
    
    
    const lb = make(g, 'text', {x: sx(t), y: B + 27, 'font-size': 23, 'text-anchor': 'middle'}, String(t));
    
    
  });
  kmSurvTicks.forEach(s => {
    const tk = make(g, 'line', {x1: L - 6, x2: L, y1: sy(s), y2: sy(s), stroke: '#222', 'stroke-width': 1.6});
    
    
    const lb = make(g, 'text', {x: L - 9, y: sy(s) + 8, 'font-size': 23, 'text-anchor': 'end'}, String(s));
    
    
  });
  const xt = make(g, 'text', {x: sx(2000), y: B + 57, 'font-size': 26.5, 'text-anchor': 'middle'}, 'Time');
  
  
  const yc = (cfg.axisTop + B) / 2;
  const yt = make(g, 'text', {x: 0, y: 0, 'font-size': 26.7, 'text-anchor': 'middle', transform: 'translate(' + (L - 69) + ',' + yc + ') rotate(-90)'}, 'Survival probability (%)');
  
  
  const pv = make(g, 'text', {x: cfg.x0 + 17.5, y: cfg.y0 + 9, 'font-size': 27}, cfg.pText);
  
  

  const ly = cfg.legendY;
  const lt = make(g, 'text', {x: cfg.legX, y: ly + 7, 'font-size': 19.2}, cfg.strata);
  
  
  [[cfg.key1, 'High', SALMON, '#FBD8D2', 'solid'], [cfg.key2, 'Low', TEAL, '#D0E9EC', 'dash']].forEach(k => {
    const bx = make(g, 'rect', {x: k[0], y: ly - 16, width: 31, height: 31, fill: k[3]});
    
    
    const ln = make(g, 'line', {x1: k[0] + 2, x2: k[0] + 29, y1: ly, y2: ly, stroke: k[2], 'stroke-width': 4.4, 'stroke-dasharray': k[4] === 'dash' ? '8 4' : 'none'});
    
    
    const cr = make(g, 'line', {x1: k[0] + 15.5, x2: k[0] + 15.5, y1: ly - 9, y2: ly + 6, stroke: k[2], 'stroke-width': 2.4});
    
    
    const tx = make(g, 'text', {x: k[0] + 42, y: ly + 7, 'font-size': 19.2}, k[1]);
    
    
  });

  const rt = cfg.riskTop, rb = cfg.riskBottom;
  const title = make(g, 'text', {x: L, y: rt - cfg.riskTitleGap, 'font-size': 30.7}, 'Number at risk');
  
  
  const ry = make(g, 'line', {x1: L, x2: L, y1: rt, y2: rb, stroke: '#111', 'stroke-width': 2});
  
  
  const rx = make(g, 'line', {x1: L - 1, x2: R, y1: rb, y2: rb, stroke: '#111', 'stroke-width': 2});
  
  
  [[cfg.riskHighY, 'High', SALMON, cfg.riskHigh], [cfg.riskLowY, 'Low', TEAL, cfg.riskLow]].forEach(row => {
    const tk = make(g, 'line', {x1: L - 5, x2: L, y1: row[0], y2: row[0], stroke: '#222', 'stroke-width': 1.6});
    
    
    const lb = make(g, 'text', {x: L - 9, y: row[0] + 8, 'font-size': 23.5, 'text-anchor': 'end', style: 'fill:' + row[2]}, row[1]);
    
    
    row[3].forEach((n, i) => {
      const v = make(g, 'text', {x: sx(kmTimeTicks[i]), y: row[0] + 9, 'font-size': 24.5, 'text-anchor': 'middle'}, String(n));
      
      
    });
  });
  kmTimeTicks.forEach(t => {
    const tk = make(g, 'line', {x1: sx(t), x2: sx(t), y1: rb, y2: rb + 6, stroke: '#222', 'stroke-width': 1.6});
    
    
    const lb = make(g, 'text', {x: sx(t), y: rb + 27, 'font-size': 23, 'text-anchor': 'middle'}, String(t));
    
    
  });
  const rtt = make(g, 'text', {x: sx(2000), y: rb + 58, 'font-size': 26.5, 'text-anchor': 'middle'}, 'Time');
  
  
  const rs = make(g, 'text', {x: 0, y: 0, 'font-size': 26.7, 'text-anchor': 'middle', transform: 'translate(' + (L - 71) + ',' + (rt + 45) + ') rotate(-90)'}, cfg.strata);
  
  
}

function drawVolcano(cfg) {
  const g = document.getElementById(cfg.id);
  const sx = v => cfg.x0 + v * cfg.pxX;
  const sy = v => cfg.y0 - v * cfg.pxY;
  let top = '', bot = '';
  cfg.massFc.forEach((f, i) => {
    top += (i ? 'L' : 'M') + sx(f) + ' ' + sy(cfg.massUp[i]);
    bot = 'L' + sx(f) + ' ' + sy(cfg.massLow[i]) + bot;
  });
  const mass = make(g, 'path', {d: top + bot + 'Z', fill: '#BEBEBE', stroke: '#BEBEBE', 'stroke-width': 7, 'stroke-linejoin': 'round'});
  
  
  cfg.gray.forEach(p => {
    const c = make(g, 'circle', {cx: sx(p[0]), cy: sy(p[1]), r: 4.2, fill: '#BEBEBE'});
    
    
  });
  cfg.down.forEach(p => {
    const c = make(g, 'circle', {cx: sx(p[0]), cy: sy(p[1]), r: 4.2, fill: '#2A5588'});
    
    
  });
  cfg.up.forEach(p => {
    const c = make(g, 'circle', {cx: sx(p[0]), cy: sy(p[1]), r: 4.2, fill: '#BE1A22'});
    
    
  });
  [-1, 1].forEach(v => {
    const l = make(g, 'line', {x1: sx(v), x2: sx(v), y1: cfg.top, y2: cfg.bottom, stroke: '#111', 'stroke-width': 1.8, 'stroke-dasharray': '7 5'});
    
    
  });
  const h = make(g, 'line', {x1: cfg.left, x2: cfg.right, y1: sy(1.3), y2: sy(1.3), stroke: '#111', 'stroke-width': 1.8, 'stroke-dasharray': '7 5'});
  
  
  const box = make(g, 'rect', {x: cfg.left, y: cfg.top, width: cfg.right - cfg.left, height: cfg.bottom - cfg.top, fill: 'none', stroke: '#555', 'stroke-width': 1.6});
  
  
  const ti = make(g, 'text', {x: cfg.left, y: cfg.top - 13, 'font-size': 25.5, 'font-weight': 'bold'}, 'Different Expression Genes');
  
  
  cfg.xTicks.forEach(v => {
    const tk = make(g, 'line', {x1: sx(v), x2: sx(v), y1: cfg.bottom, y2: cfg.bottom + 5, stroke: '#333', 'stroke-width': 1.5});
    
    
    const lb = make(g, 'text', {x: sx(v) + cfg.tickShift, y: cfg.bottom + 30, 'font-size': 25, 'text-anchor': 'middle'}, String(v).replace('-', '\u2212'));
    
    
  });
  cfg.yTicks.forEach(v => {
    const tk = make(g, 'line', {x1: cfg.left - 5, x2: cfg.left, y1: sy(v), y2: sy(v), stroke: '#333', 'stroke-width': 1.5});
    
    
    const lb = make(g, 'text', {x: cfg.left - 8, y: sy(v) + 9, 'font-size': 25, 'text-anchor': 'end'}, v.toFixed(cfg.yDigits));
    
    
  });
  const xt = make(g, 'text', {x: (cfg.left + cfg.right) / 2 + cfg.titleShift, y: cfg.bottom + 59, 'font-size': 25, 'text-anchor': 'middle'}, 'logFoldChange');
  
  
  const yt = make(g, 'text', {x: 0, y: 0, 'font-size': 25, 'text-anchor': 'middle', transform: 'translate(' + cfg.yTitleX + ',1129) rotate(-90)'}, '\u2212log10(adj.P.value)');
  
  
  const gt = make(g, 'text', {x: cfg.legX, y: cfg.legY, 'font-size': 30}, 'Group');
  
  
  [['down\u2212regulated', '#2A5588'], ['not\u2212significant', '#BEBEBE'], ['up\u2212regulated', '#BE1A22']].forEach((it, i) => {
    const y = cfg.legY + 37 + i * 34.5;
    const d = make(g, 'circle', {cx: cfg.legX + 18.5, cy: y, r: 6, fill: it[1]});
    
    
    const t = make(g, 'text', {x: cfg.legX + 50, y: y + 8.5, 'font-size': 25.6}, it[0]);
    
    
  });
  cfg.notes.forEach(n => {
    const t = make(g, 'text', {x: sx(n[0]), y: sy(n[1]) + 4, 'font-size': 11.5, 'text-anchor': 'middle', style: 'fill:' + n[3]}, n[2]);
    
    
  });
}

drawKM({id: 'km-a', x0: 145.6, pxPerTime: 0.1956, y0: 355.6, pxPerSurv: 3.186, axisLeft: 106, axisRight: 966, axisTop: 20, axisBottom: 372, darkEnd: 644,
  hTime: aHighTime, hSurv: aHighSurv, hUpper: aHighUpper, hLower: aHighLower, hCensor: aHighCensor, hEnd: 4197,
  lTime: aLowTime, lSurv: aLowSurv, lUpper: aLowUpper, lLower: aLowLower, lCensor: aLowCensor, lEnd: 3981, lBandEnd: 3975,
  pText: 'p = 0.0049', strata: 'ImmuneScore', legX: 656, key1: 786, key2: 878.5, legendY: 343.6,
  riskTop: 499, riskBottom: 590, riskHighY: 524, riskLowY: 565, riskTitleGap: 19, riskHigh: aRiskHigh, riskLow: aRiskLow});
drawKM({id: 'km-b', x0: 1155.3, pxPerTime: 0.1954, y0: 351.4, pxPerSurv: 3.194, axisLeft: 1116, axisRight: 1976, axisTop: 16, axisBottom: 367, darkEnd: 1976,
  hTime: bHighTime, hSurv: bHighSurv, hUpper: bHighUpper, hLower: bHighLower, hCensor: bHighCensor, hEnd: 3900,
  lTime: bLowTime, lSurv: bLowSurv, lUpper: bLowUpper, lLower: bLowLower, lCensor: bLowCensor, lEnd: 4197, lBandEnd: 4197,
  pText: 'p = 0.048', strata: 'StromalScore', legX: 1673.6, key1: 1801.5, key2: 1893, legendY: 335,
  riskTop: 493, riskBottom: 585, riskHighY: 519, riskLowY: 560.6, riskTitleGap: 17.5, riskHigh: bRiskHigh, riskLow: bRiskLow});
drawVolcano({id: 'vol-c', x0: 495.2, pxX: 170.5, y0: 1535, pxY: 88.8, left: 74, right: 966.5, top: 709, bottom: 1574,
  massFc: cMassFc, massUp: cMassUp, massLow: cMassLow, gray: cGray, down: cDown, up: cUp.concat(cUpDense),
  xTicks: cXTicks, yTicks: cYTicks, yDigits: 1, legX: 83, legY: 803, tickShift: 2, titleShift: 11, yTitleX: 23,
  notes: [[-1.83, 1.47, 'NELL1', '#3B5F92'], [-1.74, 1.23, 'EMILIN3', '#3B5F92'], [1.86, 1.46, 'SH3GL2', '#C62A35'], [1.72, 1.1, 'F5', '#C62A35']]});
drawVolcano({id: 'vol-d', x0: 1455.3, pxX: 119.6, y0: 1530, pxY: 142.8, left: 1073, right: 1977, top: 707, bottom: 1569,
  massFc: dMassFc, massUp: dMassUp, massLow: dMassLow, gray: dGray, down: dDown, up: dUp.concat(dUpDense),
  xTicks: dXTicks, yTicks: dYTicks, yDigits: 0, legX: 1086, legY: 813, tickShift: -2, titleShift: 7, yTitleX: 1035,
  notes: [[1.86, 1.36, 'HBA2', '#C62A35']]});
</script>
</body>
</html>
